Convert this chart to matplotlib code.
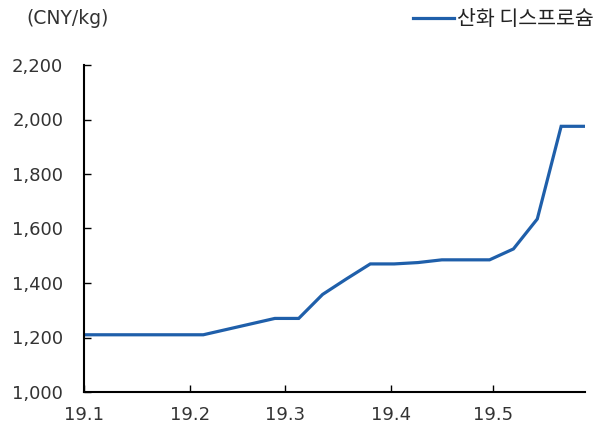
import matplotlib
matplotlib.use("Agg")
import matplotlib.pyplot as plt
import matplotlib.dates as mdates
import numpy as np
import pandas as pd

plt.rcParams['font.family'] = ['DejaVu Sans', 'Noto Sans CJK KR']

dates = pd.date_range("2019-01-01", periods=22, freq="7D")
values = [1210, 1210, 1210, 1210, 1210, 1210, 1230, 1250, 1270, 1270,
          1358, 1415, 1470, 1470, 1475, 1485, 1485, 1485, 1525, 1635,
          1975, 1975]
series_label = "산화 디스프로슘"
unit_label = "(CNY/kg)"
tick_dates = pd.to_datetime(["2019-01-01", "2019-02-01", "2019-03-01", "2019-04-01", "2019-05-01"])
tick_labels = ["19.1", "19.2", "19.3", "19.4", "19.5"]
yticks = [1000, 1200, 1400, 1600, 1800, 2000, 2200]

fig = plt.figure(figsize=(5.96, 4.30), dpi=100)
ax = fig.add_axes([84 / 596, 1 - 392 / 430, (585 - 84) / 596, (392 - 65) / 430])

ax.plot(dates, values, color="#1F5FAA", lw=2.3, label=series_label, solid_joinstyle="miter")
ax.set_xlim(dates[0], dates[-1])
ax.set_ylim(1000, 2200)
ax.set_yticks(yticks)
ax.set_yticklabels([f"{v:,}" for v in yticks])
ax.set_xticks(tick_dates)
ax.set_xticklabels(tick_labels)

for s in ["top", "right"]:
    ax.spines[s].set_visible(False)
for s in ["left", "bottom"]:
    ax.spines[s].set_linewidth(1.5)
    ax.spines[s].set_color("black")

ax.tick_params(axis="y", direction="in", length=5, width=1, pad=15, labelsize=13, colors="#333333")
ax.tick_params(axis="x", direction="in", length=5, width=1, pad=10, labelsize=13, colors="#333333")
ax.tick_params(axis="both", color="black")

fig.text(26 / 596, 1 - 18 / 430, unit_label, fontsize=13.5, va="center", ha="left", color="#333333")

leg = fig.legend(loc="center right", bbox_to_anchor=(596 / 596, 1 - 19 / 430), frameon=False,
                 handlelength=2.0, handletextpad=0.15, borderaxespad=0, borderpad=0.1,
                 prop={"family": ["Noto Sans CJK KR", "DejaVu Sans"], "size": 14.8})
for t in leg.get_texts():
    t.set_color("#222222")

fig.savefig("out.png", dpi=100)
